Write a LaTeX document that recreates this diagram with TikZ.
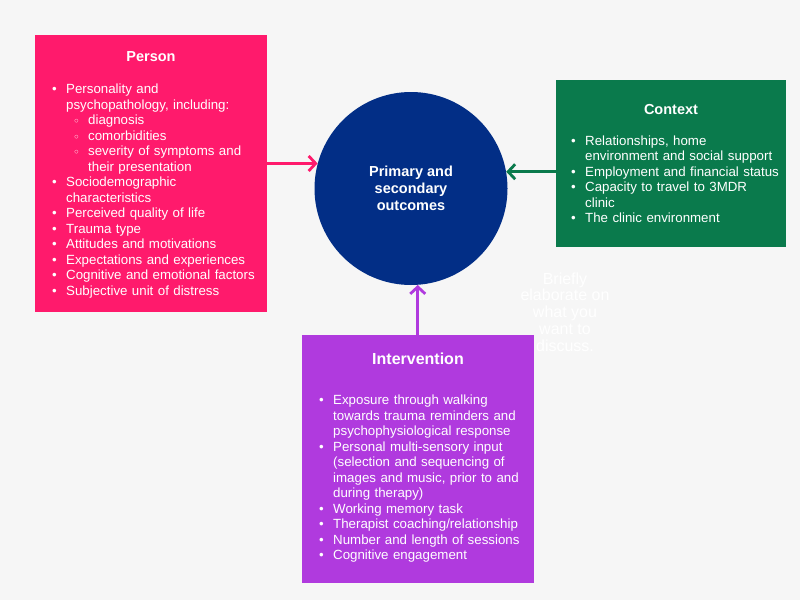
\documentclass[tikz,border=0pt]{standalone}
\usepackage{fontspec}
\setmainfont{Liberation Sans}
\usetikzlibrary{arrows.meta}
\definecolor{bgcol}{HTML}{F6F6F6}
\definecolor{personpink}{HTML}{FF1A6C}
\definecolor{contextgreen}{HTML}{0A7A4C}
\definecolor{intervpurple}{HTML}{B03ADE}
\definecolor{outcomenavy}{HTML}{022E86}
% list items: bullet, and hollow sub-bullet
\newcommand\bitem{\par\hangindent=14pt\hangafter=1\noindent\makebox[14pt][l]{\textbullet}}
\newcommand\citem{\par\hangindent=36pt\hangafter=1\noindent\hspace*{22pt}\makebox[14pt][l]{\raisebox{1pt}{\scalebox{0.6}{\symbol{"25CB}}}}}
\begin{document}
\begin{tikzpicture}[x=1pt,y=-1pt,line join=round,line cap=round,>={Straight Barb[length=7pt,width=15pt]}]
	\tikzset{box/.style={rectangle,inner sep=0pt,anchor=north west},
		boxtitle/.style={anchor=base,text=white,font=\bfseries\fontsize{14.5}{17}\selectfont},
		boxlist/.style={anchor=north west,text=white,text width=230pt,align=left,inner sep=0pt,font=\fontsize{13.3}{15.5}\selectfont},
		link/.style={->,line width=2.8pt}}
	\fill[bgcol] (0,0) rectangle (800,600);
	\useasboundingbox (0,0) rectangle (800,600);
	%\draw[gray!40] (0,0) grid[step=50] (800,600);
	\node[circle,fill=outcomenavy,minimum size=193pt,inner sep=0pt,text=white,align=center,
		font=\bfseries\fontsize{14.5}{17}\selectfont] (outcome) at (411,188.5) {Primary and\\secondary\\outcomes};
	\node[box,fill=personpink,minimum width=232pt,minimum height=277pt] (person) at (35,35) {};
	\node[boxtitle] (persontitle) at (151,61.5) {Person};
	\node[boxlist] (personlist) at (52,78) {%
		\bitem Personality and\newline psychopathology, including:
		\citem diagnosis
		\citem comorbidities
		\citem severity of symptoms and\newline their presentation
		\bitem Sociodemographic\newline characteristics
		\bitem Perceived quality of life
		\bitem Trauma type
		\bitem Attitudes and motivations
		\bitem Expectations and experiences
		\bitem Cognitive and emotional factors
		\bitem Subjective unit of distress};
	\node[box,fill=contextgreen,minimum width=230pt,minimum height=167pt] (context) at (556,80) {};
	\node[boxtitle] (contexttitle) at (671,114) {Context};
	\node[boxlist] (contextlist) at (571,129.5) {%
		\bitem Relationships, home\newline environment and social support
		\bitem Employment and financial status
		\bitem Capacity to travel to 3MDR\newline clinic
		\bitem The clinic environment};
	\node[box,fill=intervpurple,minimum width=232pt,minimum height=248pt] (intervention) at (302,335) {};
	\node[boxtitle,font=\bfseries\fontsize{16}{19}\selectfont] (intervtitle) at (418,364) {Intervention};
	\node[boxlist] (intervlist) at (319,389) {%
		\bitem Exposure through walking\newline towards trauma reminders and\newline psychophysiological response
		\bitem Personal multi-sensory input\newline (selection and sequencing of\newline images and music, prior to and\newline during therapy)
		\bitem Working memory task
		\bitem Therapist coaching/relationship
		\bitem Number and length of sessions
		\bitem Cognitive engagement};
	\node[text=white,align=center,font=\fontsize{16}{16.8}\selectfont] (hint) at (565,312) {Briefly\\elaborate on\\what you\\want to\\discuss.};
	\draw[link,personpink] (person.east |- outcome.165) -- (outcome.165);
	\draw[link,contextgreen] (context.west |- outcome.10) -- (outcome.10);
	\draw[link,intervpurple] (outcome.274 |- intervention.north) -- (outcome.274);
\end{tikzpicture}
\end{document}
